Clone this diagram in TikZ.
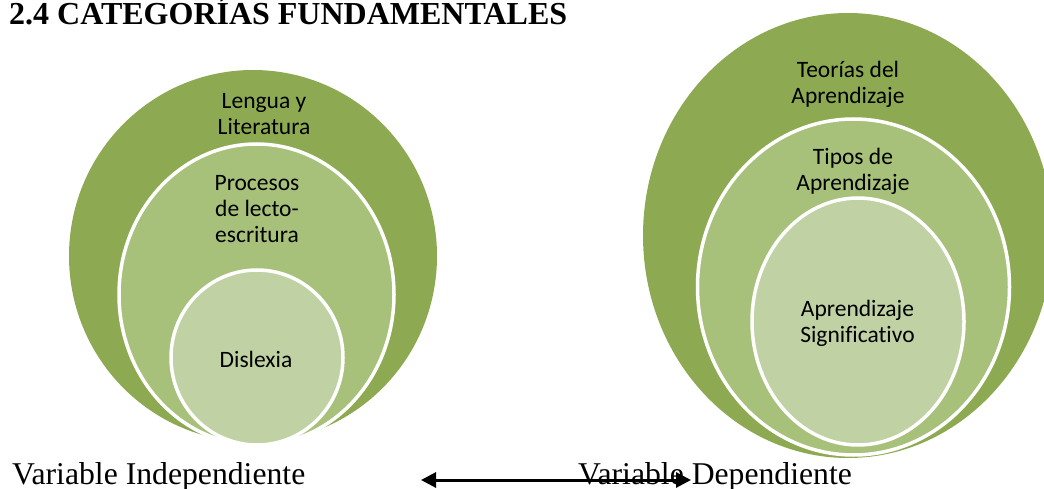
\documentclass[tikz,border=0pt]{standalone}
\usepackage{fontspec}
\setmainfont{Liberation Serif}
\newfontfamily\calfont[Ligatures={NoCommon}]{Carlito}
\usetikzlibrary{arrows.meta}
\definecolor{gOuter}{RGB}{141,170,82}
\definecolor{gMid}{RGB}{167,193,122}
\definecolor{gIn}{RGB}{192,210,164}
\begin{document}
\begin{tikzpicture}[x=1pt,y=-1pt,
  ringouter/.style={fill=gOuter,draw=none},
  ringmid/.style={fill=gMid,draw=white,line width=3.5pt},
  ringin/.style={fill=gIn,draw=white,line width=3.5pt},
  lbl/.style={font=\calfont\fontsize{23.5}{26}\selectfont,align=center,inner sep=0pt,text=black},
  ttl/.style={font=\bfseries\fontsize{32}{36}\selectfont,inner sep=0pt,anchor=base west},
  var/.style={font=\fontsize{31.7}{36}\selectfont,inner sep=0pt,anchor=base west}]
\useasboundingbox (0,0) rectangle (1044,489);
\begin{scope}
\clip (0,0) rectangle (1044,489);
% left group
\fill[ringouter] (253,256) ellipse [x radius=184,y radius=186];
\filldraw[ringmid] (256.5,294.5) ellipse [x radius=137.5,y radius=150.5];
\filldraw[ringin] (257,357.5) ellipse [x radius=86,y radius=87.5];
% right group
\fill[ringouter] (848,235.5) ellipse [x radius=205,y radius=222.5];
\filldraw[ringmid] (853.5,287) ellipse [x radius=156,y radius=168];
\filldraw[ringin] (858,321.5) ellipse [x radius=106,y radius=123.5];
\end{scope}
% labels
\node[lbl] (l1) at (264,114) {Lengua y\\Literatura};
\node[lbl] (l2) at (257,209) {Procesos\\de lecto-\\escritura};
\node[lbl] (l3) at (256,359) {Dislexia};
\node[lbl] (r1) at (848,84) {Teorías del\\Aprendizaje};
\node[lbl] (r2) at (853,171) {Tipos de\\Aprendizaje};
\node[lbl] (r3) at (857.5,323) {Aprendizaje\\Significativo};
% title and bottom texts
\node[ttl] (title) at (9,25) {2.4 CATEGORÍAS FUNDAMENTALES};
\node[var] (vi) at (12,484) {Variable Independiente};
\node[var] (vd) at (578,484) {Variable Dependiente};
% arrow
\coordinate (aL) at (421,480);
\coordinate (aR) at (691,480);
\draw[line width=3pt,{Triangle[length=15pt,width=15pt]}-{Triangle[length=15pt,width=15pt]}] (aL) -- (aR);
\end{tikzpicture}
\end{document}
